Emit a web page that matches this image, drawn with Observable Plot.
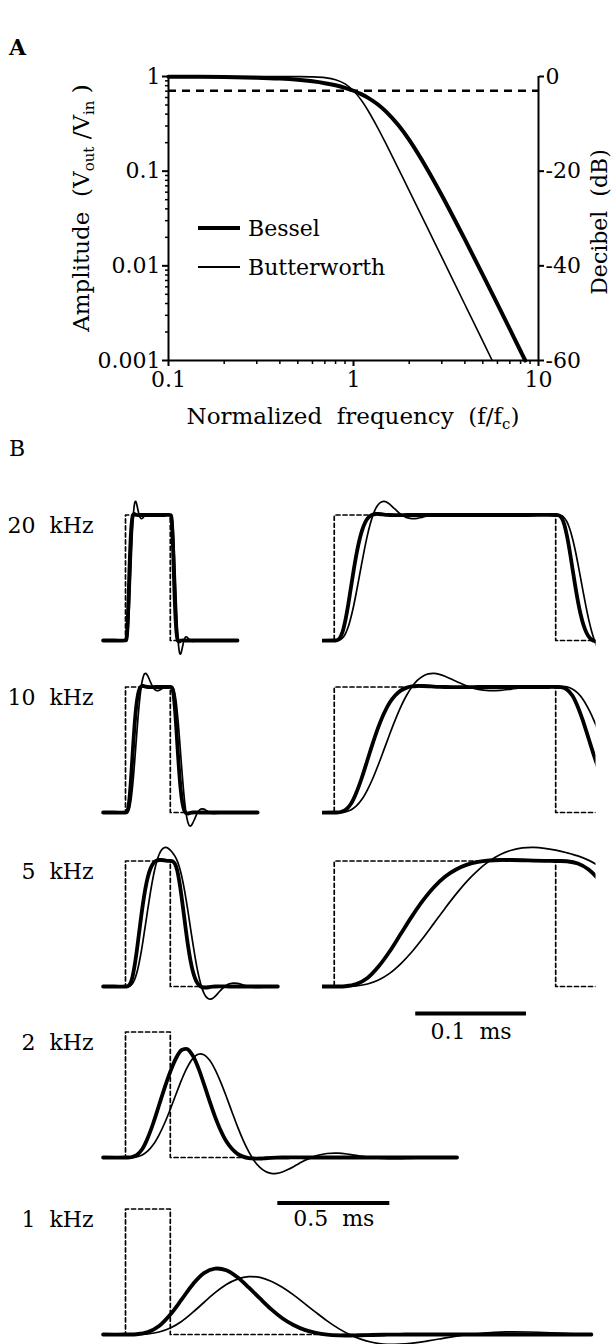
<!DOCTYPE html>
<html>
<head>
<meta charset="utf-8">
<script src="https://cdn.jsdelivr.net/npm/d3@7"></script>
<script src="https://cdn.jsdelivr.net/npm/@observablehq/plot@0.6"></script>
<style>
  html, body { margin: 0; padding: 0; background: #fff; }
  #fig { position: relative; width: 615px; height: 1344px; overflow: hidden; background: #fff;
         font-family: "DejaVu Serif", serif; color: #000; }
  .letter { position: absolute; font-size: 22px; line-height: 1; }
  .legend { position: absolute; font-size: 22px; }
  .legend .row { display: flex; align-items: center; height: 39px; }
  .legend .swatch { width: 42px; margin-right: 8px; background: #000; }
</style>
</head>
<body>
<div id="fig"></div>
<script>
// ---------- Panel A: frequency response of 4-pole low-pass filters ----------
const besselFreq = [0.1, 0.2, 0.3, 0.4, 0.5, 0.6, 0.7, 0.8, 0.9, 1, 1.1, 1.2, 1.35, 1.5, 1.75, 2, 2.5, 3, 4, 5, 6, 7, 8, 8.48];
const besselGain = [0.9968, 0.9873, 0.9715, 0.9497, 0.922, 0.8888, 0.8503, 0.8069, 0.7589, 0.7071, 0.6521, 0.5951,
                    0.5087, 0.4255, 0.3049, 0.2137, 0.1057, 0.0557, 0.019, 0.00802, 0.00393, 0.00214, 0.00126, 0.001];
const butterFreq = [0.1, 0.2, 0.3, 0.4, 0.5, 0.6, 0.7, 0.8, 0.9, 1, 1.1, 1.2, 1.35, 1.5, 1.75, 2, 2.5, 3, 4, 5, 5.62];
const butterGain = [1, 1, 1, 0.9997, 0.9981, 0.9917, 0.9724, 0.9254, 0.8361, 0.7071, 0.564, 0.4344,
                    0.2883, 0.1938, 0.106, 0.0624, 0.0256, 0.01235, 0.003906, 0.0016, 0.001];
const halfPower = 0.707;                 // -3 dB level
const ampTicks = [1, 0.1, 0.01, 0.001];
const dbTicks = [0, -20, -40, -60];
const freqTicks = [0.1, 1, 10];
const minorSteps = [2, 3, 4, 5, 6, 7, 8, 9];

// ---------- Panel B: responses to a 0.2 ms pulse (time in ms, amplitude re. pulse) ----------
const pulseOn = 0, pulseOff = 0.2;

const t20 = [-0.1, -0.05, 0,
  0.0025, 0.005, 0.0075, 0.01, 0.0125, 0.015, 0.0175, 0.02, 0.0225, 0.025, 0.0275, 0.03, 0.0325, 0.035, 0.0375, 0.04, 0.0425, 0.045, 0.0475, 0.05,
  0.055, 0.06, 0.065, 0.07, 0.075, 0.08, 0.085, 0.09,
  0.1, 0.11, 0.12, 0.13, 0.14, 0.15, 0.175, 0.2,
  0.2025, 0.205, 0.2075, 0.21, 0.2125, 0.215, 0.2175, 0.22, 0.2225, 0.225, 0.2275, 0.23, 0.2325, 0.235, 0.2375, 0.24, 0.2425, 0.245, 0.2475, 0.25,
  0.255, 0.26, 0.265, 0.27, 0.275, 0.28, 0.285, 0.29,
  0.3, 0.31, 0.32, 0.33, 0.34, 0.35, 0.375, 0.4, 0.45, 0.5];
const bessel20 = [0, 0, 0,
  0.002, 0.019, 0.068, 0.159, 0.279, 0.418, 0.557, 0.684, 0.791, 0.874, 0.932, 0.971, 0.993, 1.004, 1.008, 1.008, 1.006, 1.003, 1.001, 1.0,
  0.999, 0.999, 1, 1, 1, 1, 1, 1,
  1, 1, 1, 1, 1, 1, 1, 1,
  0.998, 0.981, 0.932, 0.841, 0.721, 0.582, 0.443, 0.316, 0.209, 0.126, 0.068, 0.029, 0.007, -0.004, -0.008, -0.008, -0.006, -0.003, -0.001, 0,
  0.001, 0.001, 0, 0, 0, 0, 0, 0,
  0, 0, 0, 0, 0, 0, 0, 0, 0, 0];
const butter20 = [0, 0, 0,
  0.001, 0.005, 0.02, 0.052, 0.105, 0.181, 0.275, 0.385, 0.503, 0.622, 0.736, 0.84, 0.928, 0.999, 1.052, 1.086, 1.104, 1.108, 1.101, 1.086,
  1.046, 1.007, 0.981, 0.971, 0.973, 0.983, 0.994, 1.003,
  1.008, 1.003, 0.998, 0.998, 1.0, 1.001, 1.0, 1.0,
  0.999, 0.995, 0.98, 0.948, 0.895, 0.819, 0.725, 0.615, 0.497, 0.378, 0.264, 0.16, 0.072, 0.001, -0.052, -0.086, -0.104, -0.108, -0.101, -0.086,
  -0.046, -0.007, 0.019, 0.029, 0.027, 0.017, 0.006, -0.003,
  -0.008, -0.003, 0.002, 0.002, 0.0, -0.001, 0, 0, 0, 0];

const t10 = [-0.1, -0.05, 0,
  0.005, 0.01, 0.015, 0.02, 0.025, 0.03, 0.035, 0.04, 0.045, 0.05, 0.055, 0.06, 0.065, 0.07, 0.075, 0.08, 0.085, 0.09, 0.095, 0.1,
  0.11, 0.12, 0.13, 0.14, 0.15, 0.16, 0.17, 0.18, 0.19, 0.2,
  0.205, 0.21, 0.215, 0.22, 0.225, 0.23, 0.235, 0.24, 0.245, 0.25, 0.255, 0.26, 0.265, 0.27, 0.275, 0.28, 0.285, 0.29, 0.295, 0.3,
  0.31, 0.32, 0.33, 0.34, 0.35, 0.36, 0.37, 0.38, 0.39, 0.4,
  0.42, 0.44, 0.46, 0.48, 0.5, 0.55, 0.59];
const bessel10 = [0, 0, 0,
  0.002, 0.019, 0.068, 0.159, 0.279, 0.418, 0.557, 0.684, 0.791, 0.874, 0.932, 0.971, 0.993, 1.004, 1.008, 1.008, 1.006, 1.003, 1.001, 1.0,
  0.999, 0.999, 1, 1, 1, 1, 1, 1, 1, 1,
  0.998, 0.981, 0.932, 0.841, 0.721, 0.582, 0.443, 0.316, 0.209, 0.126, 0.068, 0.029, 0.007, -0.004, -0.008, -0.008, -0.006, -0.003, -0.001, 0,
  0.001, 0.001, 0, 0, 0, 0, 0, 0, 0, 0,
  0, 0, 0, 0, 0, 0, 0];
const butter10 = [0, 0, 0,
  0.001, 0.005, 0.02, 0.052, 0.105, 0.181, 0.275, 0.385, 0.503, 0.622, 0.736, 0.84, 0.928, 0.999, 1.052, 1.086, 1.104, 1.108, 1.101, 1.086,
  1.046, 1.007, 0.981, 0.971, 0.973, 0.983, 0.994, 1.003, 1.008, 1.008,
  1.006, 1.001, 0.985, 0.951, 0.897, 0.819, 0.724, 0.613, 0.495, 0.376, 0.262, 0.158, 0.071, 0.0, -0.053, -0.086, -0.104, -0.108, -0.101, -0.085,
  -0.046, -0.007, 0.019, 0.029, 0.027, 0.017, 0.006, -0.003, -0.008, -0.008,
  -0.003, 0.002, 0.002, 0.0, -0.001, 0, 0];

const t5 = [-0.1, -0.05, 0,
  0.01, 0.02, 0.03, 0.04, 0.05, 0.06, 0.07, 0.08, 0.09, 0.1, 0.11, 0.12, 0.13, 0.14, 0.15, 0.16, 0.17, 0.18, 0.19, 0.2,
  0.21, 0.22, 0.23, 0.24, 0.25, 0.26, 0.27, 0.28, 0.29, 0.3, 0.31, 0.32, 0.33, 0.34, 0.35, 0.36, 0.37, 0.38, 0.39, 0.4,
  0.42, 0.44, 0.46, 0.48, 0.5, 0.52, 0.54, 0.56, 0.58, 0.6, 0.64, 0.68];
const bessel5 = [0, 0, 0,
  0.002, 0.019, 0.068, 0.159, 0.279, 0.418, 0.557, 0.684, 0.791, 0.874, 0.932, 0.971, 0.993, 1.004, 1.008, 1.008, 1.006, 1.003, 1.001, 1.0,
  0.998, 0.98, 0.931, 0.84, 0.72, 0.582, 0.443, 0.316, 0.209, 0.126, 0.068, 0.029, 0.007, -0.004, -0.008, -0.008, -0.006, -0.003, -0.001, 0,
  0.001, 0.001, 0, 0, 0, 0, 0, 0, 0, 0, 0, 0];
const butter5 = [0, 0, 0,
  0.001, 0.005, 0.02, 0.052, 0.105, 0.181, 0.275, 0.385, 0.503, 0.622, 0.736, 0.84, 0.928, 0.999, 1.052, 1.086, 1.104, 1.108, 1.101, 1.086,
  1.066, 1.041, 1.005, 0.955, 0.887, 0.8, 0.699, 0.586, 0.468, 0.351, 0.242, 0.143, 0.061, -0.005, -0.053, -0.083, -0.098, -0.1, -0.093, -0.078,
  -0.04, -0.004, 0.019, 0.027, 0.025, 0.015, 0.005, -0.003, -0.008, -0.007, -0.003, 0.002];

const t2 = [-0.1, 0,
  0.025, 0.05, 0.075, 0.1, 0.125, 0.15, 0.175, 0.2, 0.225, 0.25, 0.275, 0.3, 0.325, 0.35, 0.375, 0.4,
  0.425, 0.45, 0.475, 0.5, 0.525, 0.55, 0.575, 0.6, 0.625, 0.65, 0.675, 0.7, 0.725, 0.75, 0.775, 0.8,
  0.85, 0.9, 0.95, 1.0, 1.05, 1.1, 1.15, 1.2, 1.25, 1.3, 1.35, 1.4, 1.45, 1.48];
const bessel2 = [0, 0,
  0.002, 0.019, 0.068, 0.159, 0.279, 0.418, 0.557, 0.684, 0.789, 0.855, 0.864, 0.812, 0.714, 0.586, 0.451, 0.324,
  0.215, 0.129, 0.069, 0.029, 0.007, -0.005, -0.009, -0.009, -0.006, -0.003, -0.001, 0, 0, 0.001, 0.001, 0,
  0, 0, 0, 0, 0, 0, 0, 0, 0, 0, 0, 0, 0, 0];
const butter2 = [0, 0,
  0.001, 0.005, 0.02, 0.052, 0.105, 0.181, 0.275, 0.385, 0.502, 0.617, 0.716, 0.788, 0.823, 0.818, 0.777, 0.701,
  0.601, 0.486, 0.365, 0.246, 0.139, 0.047, -0.027, -0.079, -0.112, -0.127, -0.127, -0.115, -0.096, -0.073, -0.047, -0.024,
  0.013, 0.032, 0.035, 0.025, 0.012, 0.0, -0.008, -0.01, -0.008, -0.005, -0.001, 0.002, 0.002, 0.002];

const t1 = [-0.1, 0,
  0.05, 0.1, 0.15, 0.2, 0.25, 0.3, 0.35, 0.4, 0.45, 0.5, 0.55, 0.6, 0.65, 0.7, 0.75, 0.8, 0.85, 0.9, 0.95, 1.0,
  1.05, 1.1, 1.15, 1.2, 1.25, 1.3, 1.35, 1.4, 1.45, 1.5,
  1.6, 1.7, 1.8, 1.9, 2.0, 2.08];
const bessel1 = [0, 0,
  0.002, 0.019, 0.068, 0.159, 0.277, 0.399, 0.489, 0.525, 0.512, 0.456, 0.375, 0.287, 0.202, 0.13, 0.076, 0.037, 0.013, -0.001, -0.007, -0.008,
  -0.006, -0.004, -0.002, -0.001, 0, 0, 0, 0, 0, 0,
  0, 0, 0, 0, 0, 0];
const butter1 = [0, 0,
  0.001, 0.005, 0.02, 0.052, 0.104, 0.176, 0.255, 0.333, 0.398, 0.441, 0.461, 0.455, 0.425, 0.377, 0.316, 0.246, 0.176, 0.109, 0.049, 0.0,
  -0.037, -0.062, -0.076, -0.079, -0.075, -0.065, -0.051, -0.036, -0.021, -0.008,
  0.012, 0.021, 0.02, 0.014, 0.005, -0.002];

const rowLabels = ["20  kHz", "10  kHz", "5  kHz", "2  kHz", "1  kHz"];
const fastBar = {start: 0.0736, length: 0.1, label: "0.1  ms"};
const slowBar = {start: 0.68, length: 0.5, label: "0.5  ms"};

// ---------- helpers ----------
const fig = document.getElementById("fig");
const font = {fontFamily: "DejaVu Serif", fontSize: "22px", background: "transparent", color: "#000", overflow: "visible"};

function place(el, left, top) {
  el.style.position = "absolute";
  el.style.left = left + "px";
  el.style.top = top + "px";
  fig.appendChild(el);
  return el;
}
const zipTrace = (t, bessel, butter) => t.map((ti, i) => ({t: ti, bessel: bessel[i], butter: butter[i]}));
const pulseTrace = (end) => [
  {t: -0.1, v: 0}, {t: pulseOn, v: 0}, {t: pulseOn, v: 1},
  {t: pulseOff, v: 1}, {t: pulseOff, v: 0}, {t: end, v: 0}
];

// ---------- Panel A ----------
const besselA = besselFreq.map((f, i) => ({f, a: besselGain[i]}));
const butterA = butterFreq.map((f, i) => ({f, a: butterGain[i]}));
const ampMinor = [0.001, 0.01, 0.1].flatMap(d => minorSteps.map(k => +(k * d).toPrecision(2)));
const freqMinor = [0.1, 1].flatMap(d => minorSteps.map(k => +(k * d).toPrecision(2)));

const plotA = Plot.plot({
  width: 615, height: 440,
  marginLeft: 168, marginRight: 77, marginTop: 76, marginBottom: 80,
  style: font,
  x: {type: "log", domain: [0.1, 10], axis: null},
  y: {type: "log", domain: [0.001, 1], axis: null},
  marks: [
    Plot.ruleY([halfPower], {stroke: "#000", strokeWidth: 2.4, strokeDasharray: "8,6"}),
    Plot.line(butterA, {x: "f", y: "a", curve: "catmull-rom", stroke: "#000", strokeWidth: 1.6}),
    Plot.line(besselA, {x: "f", y: "a", curve: "catmull-rom", stroke: "#000", strokeWidth: 4}),
    Plot.ruleX([0.1], {strokeWidth: 2}),
    Plot.ruleX([10], {strokeWidth: 2}),
    Plot.ruleY([0.001], {strokeWidth: 2}),
    Plot.axisY(ampTicks, {anchor: "left", tickSize: 6, tickPadding: 2, strokeWidth: 2, label: null, tickFormat: d => String(d)}),
    Plot.axisY(ampMinor, {anchor: "left", tickSize: 3, strokeWidth: 1.5, label: null, tickFormat: () => ""}),
    Plot.axisY(dbTicks.map(db => 10 ** (db / 20)), {anchor: "right", tickSize: 5, tickPadding: 2, strokeWidth: 2, label: null,
      tickFormat: d => String(Math.round(20 * Math.log10(d)))}),
    Plot.axisX(freqTicks, {anchor: "bottom", tickSize: 6, tickPadding: 5, strokeWidth: 2, label: null, tickFormat: d => String(d)}),
    Plot.axisX(freqMinor, {anchor: "bottom", tickSize: 4, strokeWidth: 1.5, label: null, tickFormat: () => ""})
  ]
});
place(plotA, 0, 0);

// axis titles with subscripts
const svgA = d3.select(plotA);
svgA.append("text")
  .attr("transform", "translate(89,208) rotate(-90)")
  .attr("text-anchor", "middle").attr("font-size", 23)
  .call(t => {
    t.append("tspan").text("Amplitude  (V");
    t.append("tspan").attr("dy", 5).attr("font-size", 15).text("out");
    t.append("tspan").attr("dy", -5).text(" /V");
    t.append("tspan").attr("dy", 5).attr("font-size", 15).text("in");
    t.append("tspan").attr("dy", -5).text(" )");
  });
svgA.append("text")
  .attr("transform", "translate(607,222) rotate(-90)")
  .attr("text-anchor", "middle").attr("font-size", 22)
  .text("Decibel  (dB)");
svgA.append("text")
  .attr("x", 353).attr("y", 424)
  .attr("text-anchor", "middle").attr("font-size", 23)
  .call(t => {
    t.append("tspan").text("Normalized  frequency  (f/f");
    t.append("tspan").attr("dy", 5).attr("font-size", 15).text("c");
    t.append("tspan").attr("dy", -5).text(")");
  });

// legend
const legend = document.createElement("div");
legend.className = "legend";
legend.innerHTML =
  '<div class="row"><span class="swatch" style="height:4px"></span>Bessel</div>' +
  '<div class="row"><span class="swatch" style="height:1.6px"></span>Butterworth</div>';
place(legend, 198, 208.5);

const letterA = document.createElement("div");
letterA.className = "letter"; letterA.style.fontWeight = "bold"; letterA.textContent = "A";
place(letterA, 9, 36);
const letterB = document.createElement("div");
letterB.className = "letter"; letterB.textContent = "B";
place(letterB, 9, 438);

// ---------- Panel B ----------
const yScale = {domain: [0, 1], range: [150, 24.5], axis: null};
const slowX = {domain: [-0.1, 2.1], range: [102.6, 595.4], axis: null};
const fastX = {domain: [-0.0106, 0.2364], axis: null};

function tracePlot({trace, end, label, width, height = 175, x, marginLeft, marginRight, clip = false, extra = []}) {
  return Plot.plot({
    width, height, marginLeft, marginRight, marginTop: 0, marginBottom: 0,
    style: font,
    x, y: yScale,
    marks: [
      Plot.line(pulseTrace(end), {x: "t", y: "v", stroke: "#000", strokeWidth: 1.7, strokeDasharray: "4,3", clip}),
      Plot.line(trace, {x: "t", y: "butter", curve: "catmull-rom", stroke: "#000", strokeWidth: 1.7, clip}),
      Plot.line(trace, {x: "t", y: "bessel", curve: "catmull-rom", stroke: "#000", strokeWidth: 3.8, clip}),
      label ? Plot.text([label], {frameAnchor: "top-left", dx: -9, dy: 35, textAnchor: "end", lineAnchor: "middle"}) : null,
      ...extra
    ]
  });
}

const traces = [
  zipTrace(t20, bessel20, butter20),
  zipTrace(t10, bessel10, butter10),
  zipTrace(t5, bessel5, butter5),
  zipTrace(t2, bessel2, butter2),
  zipTrace(t1, bessel1, butter1)
];
const rowTop = [490, 662.3, 836, 1006.7, 1184];

// rows with a slow (left) and an expanded (right) time base
for (let r = 0; r < 3; ++r) {
  const trace = traces[r];
  const left = tracePlot({trace, end: trace[trace.length - 1].t, label: rowLabels[r],
    width: 310, x: slowX, marginLeft: 102, marginRight: 0});
  place(left, 0, rowTop[r]);
  const extra = r === 2 ? [
    Plot.ruleY([fastBar], {y: () => 0, x1: d => d.start, x2: d => d.start + d.length, dy: 27, strokeWidth: 4, strokeLinecap: "butt"}),
    Plot.text([fastBar], {x: d => d.start + d.length / 2, y: () => 0, text: "label", dy: 45, lineAnchor: "middle"})
  ] : [];
  const right = tracePlot({trace, end: 0.3, width: 305, height: r === 2 ? 215 : 175,
    x: fastX, marginLeft: 12, marginRight: 19.5, clip: true, extra});
  place(right, 310, rowTop[r]);
}

// rows with the slow time base only
for (let r = 3; r < 5; ++r) {
  const trace = traces[r];
  const extra = r === 4 ? [
    Plot.ruleY([slowBar], {y: () => 1, x1: d => d.start, x2: d => d.start + d.length, dy: -6, strokeWidth: 4, strokeLinecap: "butt"}),
    Plot.text([slowBar], {x: d => d.start + d.length / 2, y: () => 1, text: "label", dy: 10, lineAnchor: "middle"})
  ] : [];
  const p = tracePlot({trace, end: trace[trace.length - 1].t, label: rowLabels[r],
    width: 615, height: r === 4 ? 160 : 175, x: slowX, marginLeft: 102, marginRight: 0, extra});
  place(p, 0, rowTop[r]);
}
</script>
</body>
</html>
